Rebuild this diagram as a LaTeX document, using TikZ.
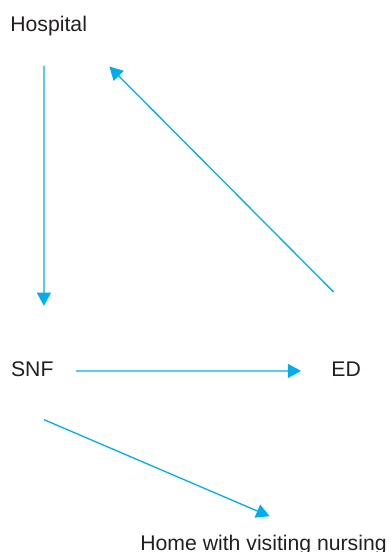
\documentclass[tikz,border=0pt]{standalone}
\usepackage{fontspec}
\setmainfont{Liberation Sans}
\usetikzlibrary{positioning, arrows.meta, calc}
\definecolor{flowCyan}{HTML}{00AEEF}
\definecolor{textGray}{HTML}{231F20}
\begin{document}
\begin{tikzpicture}[x=0.5pt, y=-0.5pt,
    every node/.style={font=\fontsize{10.6}{12}\selectfont, text=textGray, inner sep=0pt, anchor=base west},
    flow/.style={-{Triangle[length=6.6pt,width=7pt]}, line width=0.65pt, flowCyan}]
  \useasboundingbox (0,0) rectangle (391,552);
  \node (hosp) at (10,31.7) {Hospital};
  \node (snf) at (10.7,376.7) {SNF};
  \node (ed) at (331,376.7) {ED};
  \node (home) at (140,550) {Home with visiting nursing};
  \draw[flow] ($(hosp.south)+(-4.6,29)$) -- ($(snf.north)+(11.6,-55.7)$);
  \draw[flow] ($(ed.north)+(-12.5,-69.7)$) -- ($(hosp.south east)+(22,30)$);
  \draw[flow] ($(snf.east)+(22.3,1.5)$) -- ($(ed.west)+(-30,1.5)$);
  \draw[flow] ($(snf.south)+(11.6,42.3)$) -- ($(home.north)+(6,-18)$);
\end{tikzpicture}
\end{document}
